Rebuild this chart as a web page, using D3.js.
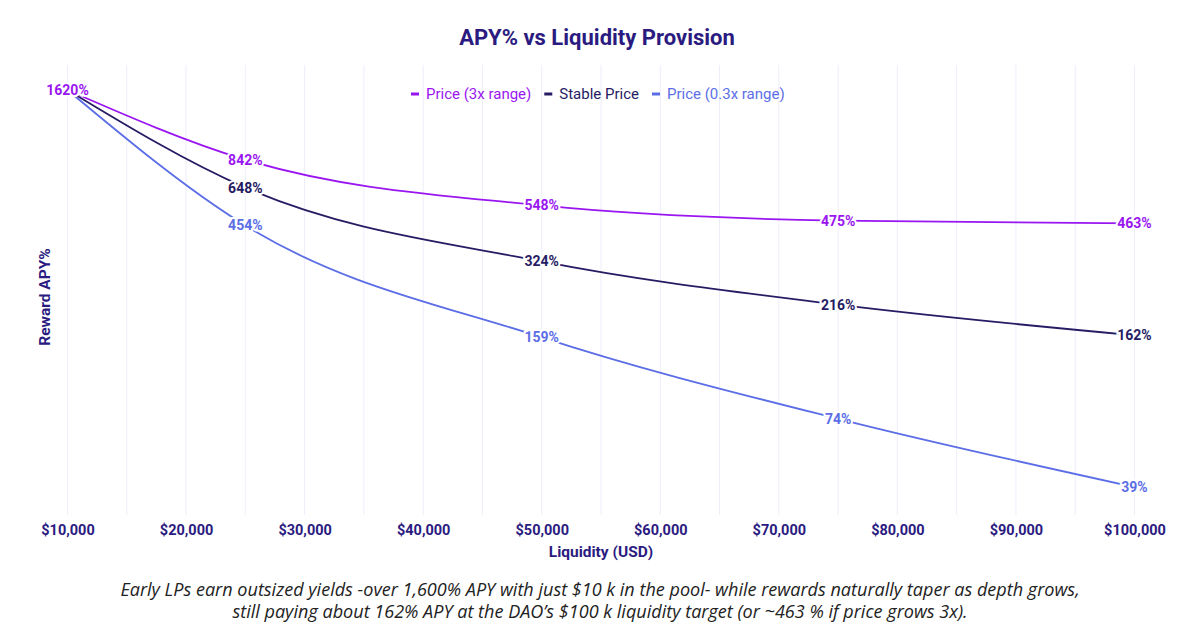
<!DOCTYPE html>
<html>
<head>
<meta charset="utf-8">
<script src="https://cdn.jsdelivr.net/npm/d3@7"></script>
<style>
  body { margin: 0; background: #fff; }
  svg { display: block; font-family: Roboto, sans-serif; }
</style>
</head>
<body>
<svg id="chart" width="1200" height="634"></svg>
<script>
const liquidity = [10000, 25000, 50000, 75000, 100000];
const priceUp = [1620, 842, 548, 475, 463];
const stablePrice = [1620, 648, 324, 216, 162];
const priceDown = [1620, 454, 159, 74, 39];
const seriesNames = ['Price (3x range)', 'Stable Price', 'Price (0.3x range)'];
const xTicks = [10000, 20000, 30000, 40000, 50000, 60000, 70000, 80000, 90000, 100000];
const captionLines = [
  'Early LPs earn outsized yields -over 1,600% APY with just $10 k in the pool- while rewards naturally taper as depth grows,',
  'still paying about 162% APY at the DAO\u2019s $100 k liquidity target (or ~463 % if price grows 3x).'
];

const width = 1200, height = 634;
const margin = { top: 65, right: 65.5, bottom: 119, left: 67.5 };
const textColor = '#2b1b80';
const colors = ['#9a16f0', '#261c64', '#5c6ee6'];

const svg = d3.select('#chart');

const x = d3.scaleLinear()
  .domain([10000, 100000])
  .range([margin.left, width - margin.right]);

const y = d3.scaleLog()
  .domain([30, 2048])
  .range([height - margin.bottom, margin.top]);

// vertical gridlines every 5k
svg.append('g')
  .selectAll('line')
  .data(d3.range(10000, 100001, 5000))
  .join('line')
  .attr('x1', d => x(d)).attr('x2', d => x(d))
  .attr('y1', margin.top).attr('y2', height - margin.bottom)
  .attr('stroke', '#eceefa')
  .attr('stroke-width', 1);

// x axis labels
svg.append('g')
  .attr('transform', `translate(0,${height - margin.bottom})`)
  .call(d3.axisBottom(x).tickValues(xTicks).tickSize(0).tickPadding(10)
    .tickFormat(d => '$' + d3.format(',')(d)))
  .call(g => g.select('.domain').remove())
  .selectAll('text')
  .attr('font-family', 'Roboto, sans-serif')
  .attr('font-size', 14.5)
  .attr('font-weight', 700)
  .attr('fill', textColor);

svg.append('text')
  .attr('x', 601).attr('y', 557)
  .attr('text-anchor', 'middle')
  .attr('font-size', 15.5).attr('font-weight', 700)
  .attr('fill', textColor)
  .text('Liquidity (USD)');

svg.append('text')
  .attr('transform', 'translate(50,297) rotate(-90)')
  .attr('text-anchor', 'middle')
  .attr('font-size', 15.5).attr('font-weight', 700)
  .attr('fill', textColor)
  .text('Reward APY%');

svg.append('text')
  .attr('x', 597).attr('y', 45)
  .attr('text-anchor', 'middle')
  .attr('font-size', 22).attr('font-weight', 700)
  .attr('fill', textColor)
  .text('APY% vs Liquidity Provision');

// legend
const legend = svg.append('g').attr('transform', 'translate(411,94)');
let lx = 0;
seriesNames.forEach((name, i) => {
  const item = legend.append('g').attr('transform', `translate(${lx},0)`);
  item.append('rect')
    .attr('x', 0).attr('y', -1.5).attr('width', 8).attr('height', 3)
    .attr('fill', colors[i]);
  const t = item.append('text')
    .attr('x', 15).attr('dy', '0.35em')
    .attr('font-size', 15).attr('fill', colors[i])
    .text(name);
  lx += 15 + t.node().getComputedTextLength() + 13;
});

// lines
const series = [priceDown, stablePrice, priceUp];
const seriesColors = [colors[2], colors[1], colors[0]];
const line = d3.line()
  .curve(d3.curveMonotoneX)
  .x((d, i) => x(liquidity[i]))
  .y(d => y(d));

series.forEach((vals, s) => {
  svg.append('path')
    .datum(vals)
    .attr('fill', 'none')
    .attr('stroke', seriesColors[s])
    .attr('stroke-width', 1.8)
    .attr('d', line);
});

series.forEach((vals, s) => {
  svg.append('g')
    .selectAll('text')
    .data(vals)
    .join('text')
    .attr('x', (d, i) => x(liquidity[i]))
    .attr('y', d => y(d))
    .attr('dy', '0.35em')
    .attr('text-anchor', 'middle')
    .attr('font-size', 14).attr('font-weight', 700)
    .attr('fill', seriesColors[s])
    .attr('stroke', '#fff').attr('stroke-width', 4)
    .attr('paint-order', 'stroke')
    .text(d => d + '%');
});

// caption
const cap = svg.append('g');
const capTexts = captionLines.map((t, i) => cap.append('text')
  .attr('x', 600).attr('y', 596 + i * 22)
  .attr('text-anchor', 'middle')
  .attr('font-family', '"Open Sans", sans-serif')
  .attr('font-style', 'italic')
  .attr('fill', '#222')
  .attr('font-size', 17)
  .text(t));
const w0 = capTexts[0].node().getComputedTextLength();
const fs = 17 * 960 / w0;
capTexts.forEach(t => t.attr('font-size', fs));
</script>
</body>
</html>
